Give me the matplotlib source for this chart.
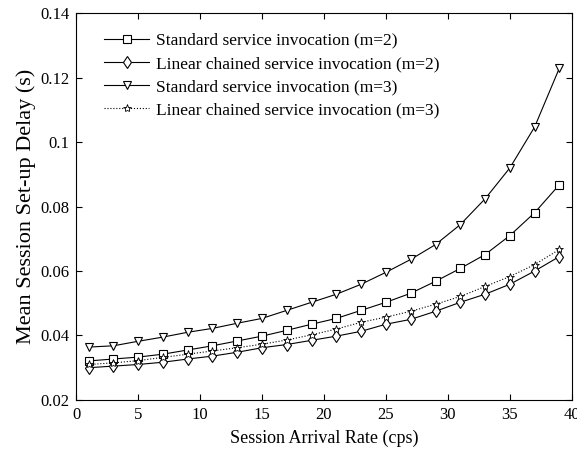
import matplotlib
matplotlib.use('Agg')
from matplotlib import pyplot as plt

plt.rcParams['font.family'] = ['Liberation Serif', 'DejaVu Serif']

# arrival rate (cps)
rate = [1, 3, 5, 7, 9, 11, 13, 15, 17, 19, 21, 23, 25, 27, 29, 31, 33, 35, 37, 39]

# mean session set-up delay (s)
std_m2 = [0.0321, 0.0327, 0.0333, 0.0342, 0.0355, 0.0368, 0.0383, 0.0398, 0.0416, 0.0435,
          0.0453, 0.0478, 0.0503, 0.0531, 0.0568, 0.0608, 0.0651, 0.0710, 0.0781, 0.0868]
lin_m2 = [0.0300, 0.0305, 0.0310, 0.0317, 0.0327, 0.0336, 0.0348, 0.0362, 0.0372, 0.0385,
          0.0398, 0.0413, 0.0435, 0.0450, 0.0475, 0.0503, 0.0528, 0.0559, 0.0600, 0.0645]
std_m3 = [0.0364, 0.0368, 0.0382, 0.0395, 0.0410, 0.0422, 0.0438, 0.0453, 0.0478, 0.0503,
          0.0528, 0.0559, 0.0596, 0.0636, 0.0682, 0.0744, 0.0824, 0.0920, 0.1047, 0.1230]
lin_m3 = [0.0310, 0.0315, 0.0322, 0.0332, 0.0342, 0.0352, 0.0362, 0.0373, 0.0386, 0.0402,
          0.0420, 0.0441, 0.0457, 0.0475, 0.0497, 0.0521, 0.0552, 0.0583, 0.0620, 0.0667]

labels = ['Standard service invocation (m=2)',
          'Linear chained service invocation (m=2)',
          'Standard service invocation (m=3)',
          'Linear chained service invocation (m=3)']

fig = plt.figure(figsize=(5.77, 4.55), dpi=100)
ax = fig.add_axes([0.132, 0.121, 0.859, 0.850])

ax.plot(rate, std_m2, '-', color='black', lw=0.8, marker='s', ms=5.5, mfc='white', mec='black', mew=0.8, label=labels[0])
ax.plot(rate, lin_m2, '-', color='black', lw=0.8, marker='d', ms=6, mfc='white', mec='black', mew=0.8, label=labels[1])
ax.plot(rate, std_m3, '-', color='black', lw=0.8, marker='v', ms=6, mfc='white', mec='black', mew=0.8, label=labels[2])
ax.plot(rate, lin_m3, ':', color='black', lw=0.8, marker='*', ms=6, mfc='white', mec='black', mew=0.6, label=labels[3])

ax.set_xlim(0, 40)
ax.set_ylim(0.02, 0.14)
ax.set_xticks(range(0, 41, 5))
ax.set_yticks([0.02, 0.04, 0.06, 0.08, 0.1, 0.12, 0.14])
ax.set_yticklabels(['0.02', '0.04', '0.06', '0.08', '0.1', '0.12', '0.14'])
ax.tick_params(direction='in', top=True, right=True, labelsize=12, length=4, pad=5)
for s in ax.spines.values():
    s.set_linewidth(0.8)

ax.set_xlabel('Session Arrival Rate (cps)', fontsize=13, labelpad=5)
ax.set_ylabel('Mean Session Set-up Delay (s)', fontsize=16, labelpad=3)

ax.legend(loc='upper left', bbox_to_anchor=(0.025, 0.99), frameon=False, fontsize=12.5,
          handlelength=2.6, handletextpad=0.4, labelspacing=0.4)

fig.savefig('out.png', dpi=100)
